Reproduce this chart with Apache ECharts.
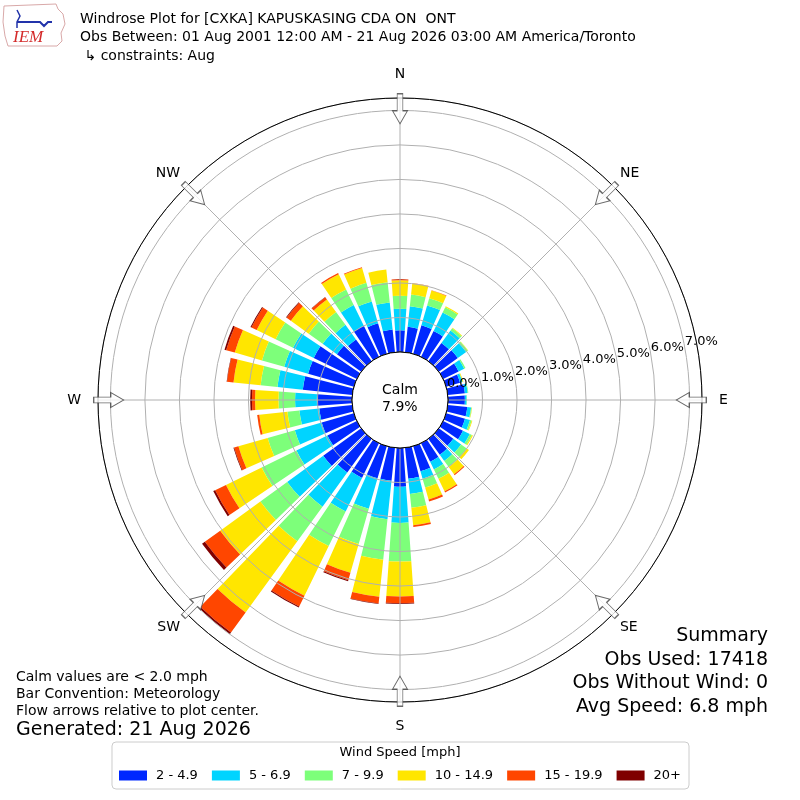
<!DOCTYPE html>
<html>
<head>
<meta charset="utf-8">
<script src="https://cdn.jsdelivr.net/npm/echarts@6/dist/echarts.min.js"></script>
<style>
html, body { margin: 0; padding: 0; background: #fff; }
#main { width: 800px; height: 800px; }
</style>
</head>
<body>
<div id="main"></div>
<script>
// wind direction bins (degrees, meteorological, every 10)
var directions = ['0','10','20','30','40','50','60','70','80','90','100','110',
                  '120','130','140','150','160','170','180','190','200','210','220','230',
                  '240','250','260','270','280','290','300','310','320','330','340','350'];

var speedBins = ['2 - 4.9', '5 - 6.9', '7 - 9.9', '10 - 14.9', '15 - 19.9', '20+'];

// frequency (%) per direction for each speed bin
var speed2to5 = [0.63,0.74,0.86,0.83,0.65,0.68,0.50,0.42,0.50,0.49,0.57,0.57,
                 0.64,0.52,0.57,0.60,0.76,0.90,1.12,0.96,0.97,1.12,1.21,1.36,
                 0.95,0.97,0.96,1.02,1.44,1.38,1.39,0.87,0.78,1.00,0.92,0.66];
var speed5to7 = [0.62,0.60,0.60,0.60,0.45,0.30,0.18,0.07,0.08,0.05,0.11,0.15,
                 0.22,0.28,0.22,0.25,0.22,0.45,1.05,1.12,0.92,1.08,1.22,1.29,
                 1.00,0.81,0.58,0.63,0.74,0.72,0.67,0.51,0.52,0.67,0.66,0.79];
var speed7to10 = [0.38,0.34,0.22,0.17,0.08,0.06,0.04,0.01,0.02,0.01,0.02,0.05,
                  0.07,0.20,0.22,0.30,0.27,0.40,1.12,1.18,1.06,1.12,1.24,0.96,
                  1.12,0.82,0.35,0.48,0.49,0.67,0.56,0.50,0.46,0.50,0.56,0.59];
var speed10to15 = [0.45,0.33,0.23,0.03,0.02,0.01,0.00,0.02,0.00,0.00,0.01,0.02,
                   0.03,0.08,0.26,0.40,0.36,0.51,1.01,1.08,0.87,1.60,2.55,1.44,
                   1.15,0.88,0.82,0.68,0.79,0.82,0.61,0.64,0.45,0.49,0.45,0.37];
var speed15to20 = [0.03,0.01,0.01,0.00,0.00,0.00,0.00,0.00,0.00,0.00,0.00,0.00,
                   0.00,0.00,0.03,0.04,0.06,0.05,0.20,0.20,0.22,0.35,0.72,0.55,
                   0.35,0.13,0.06,0.09,0.19,0.26,0.17,0.15,0.08,0.04,0.02,0.00];
var speed20up = [0.00,0.00,0.00,0.00,0.00,0.00,0.00,0.00,0.00,0.00,0.00,0.00,
                 0.00,0.00,0.00,0.00,0.00,0.00,0.02,0.01,0.03,0.03,0.06,0.10,
                 0.06,0.02,0.00,0.05,0.01,0.05,0.03,0.02,0.01,0.00,0.00,0.00];

var calmPercent = 7.9;

// compass labels for the outer ring
var compassNames = ['N', 'NE', 'E', 'SE', 'S', 'SW', 'W', 'NW'];
var compassAngles = [0, 45, 90, 135, 180, 225, 270, 315];

var summaryLines = ['Summary', 'Obs Used: 17418', 'Obs Without Wind: 0', 'Avg Speed: 6.8 mph'];

var binColors = ['#0028ff', '#00d4ff', '#7dff7a', '#ffe600', '#ff4600', '#7f0000'];
var binData = [speed2to5, speed5to7, speed7to10, speed10to15, speed15to20, speed20up];

var FONT = 'DejaVu Sans';
var R_IN = 48, R_OUT = 302, R_MAX = 7.36;

var chart = echarts.init(document.getElementById('main'));

// hollow arrow pointing up, rotated to point at the centre
var arrowPath = 'path://M8,0 L16,13 L11,13 L11,30 L5,30 L5,13 L0,13 Z';

var barSeries = binData.map(function (d, i) {
    return {
        type: 'bar',
        name: speedBins[i],
        coordinateSystem: 'polar',
        polarIndex: 0,
        stack: 'wind',
        data: d,
        barCategoryGap: '20%',
        itemStyle: { color: binColors[i] },
        silent: true,
        z: 2
    };
});

// summary block, right aligned
var summaryText = summaryLines.map(function (s, i) {
    return {
        type: 'text', right: 32, top: 627 + i * 23.5,
        style: { text: s, font: '19px "DejaVu Sans"', fill: '#000' }
    };
});

var option = {
    animation: false,
    textStyle: { fontFamily: FONT },
    title: [{
        text: 'Windrose Plot for [CXKA] KAPUSKASING CDA ON  ONT\n' +
              'Obs Between: 01 Aug 2001 12:00 AM - 21 Aug 2026 03:00 AM America/Toronto\n' +
              ' \u21b3 constraints: Aug',
        left: 80,
        top: 10,
        padding: 0,
        textStyle: { fontFamily: FONT, fontSize: 14, fontWeight: 'normal', color: '#000', lineHeight: 18.5 }
    }],
    polar: [
        { center: ['50%', '50%'], radius: [R_IN, R_OUT] },
        { center: ['50%', '50%'], radius: [R_IN, R_OUT] },
        { center: ['50%', '50%'], radius: [R_IN, R_OUT] }
    ],
    angleAxis: [
        {
            polarIndex: 0, type: 'category', data: directions,
            startAngle: 95, clockwise: true,
            axisLine: { show: false }, axisTick: { show: false },
            axisLabel: { show: false }, splitLine: { show: false }
        },
        {
            polarIndex: 1, type: 'value', min: 0, max: 360, interval: 45,
            startAngle: 90, clockwise: true, z: 6,
            axisLine: { lineStyle: { color: '#000', width: 1 } },
            axisTick: { show: false },
            axisLabel: {
                margin: 9, fontSize: 14, color: '#000', fontFamily: FONT,
                formatter: function (v) {
                    var i = Math.round(v / 45) % 8;
                    return (i % 2 === 0 ? '{c|' : '{d|') + compassNames[i] + '}';
                },
                rich: {
                    c: { fontSize: 14, fontFamily: FONT, color: '#000', padding: 8 },
                    d: { fontSize: 14, fontFamily: FONT, color: '#000' }
                }
            },
            splitLine: { lineStyle: { color: '#b0b0b0', width: 1 } }
        },
        { polarIndex: 2, type: 'value', min: 0, max: 360, startAngle: 10, show: false }
    ],
    radiusAxis: [
        { polarIndex: 0, min: 0, max: R_MAX, show: false },
        {
            polarIndex: 1, min: 0, max: R_MAX, interval: 1, z: 5,
            axisLine: { show: false }, axisTick: { show: false },
            axisLabel: { show: false },
            splitLine: { lineStyle: { color: '#b0b0b0', width: 1 } }
        },
        {
            polarIndex: 2, min: 0, max: R_MAX, interval: 1, z: 7,
            axisLine: { show: false }, axisTick: { show: false },
            splitLine: { show: false },
            axisLabel: {
                fontSize: 13, color: '#000', fontFamily: FONT,
                align: 'left', verticalAlign: 'bottom', margin: 2,
                formatter: function (v) {
                    if (Math.abs(v - Math.round(v)) > 1e-6) return '';
                    return v.toFixed(1) + '%';
                }
            }
        }
    ],
    legend: {
        data: speedBins,
        left: 'center',
        top: 742,
        icon: 'rect',
        itemWidth: 28,
        itemHeight: 10,
        itemGap: 14,
        padding: [27, 8, 7, 7],
        borderColor: '#cccccc',
        borderWidth: 1,
        borderRadius: 4,
        selectedMode: false,
        textStyle: { fontFamily: FONT, fontSize: 13, color: '#000', padding: [0, 0, 0, 4] }
    },
    graphic: [
        // calm circle in the middle
        {
            type: 'circle', z: 100,
            shape: { cx: 400, cy: 400, r: R_IN },
            style: { fill: '#fff', stroke: '#000', lineWidth: 1 }
        },
        {
            type: 'text', z: 101, left: 'center', top: 382,
            style: {
                text: 'Calm\n' + calmPercent.toFixed(1) + '%',
                font: '14px "DejaVu Sans"', fill: '#000', align: 'center', lineHeight: 17
            }
        },
        // legend title
        {
            type: 'text', z: 101, left: 'center', top: 746,
            style: { text: 'Wind Speed [mph]', font: '13px "DejaVu Sans"', fill: '#000' }
        },
        // notes, bottom left
        {
            type: 'text', left: 16, top: 669,
            style: {
                text: 'Calm values are < 2.0 mph\nBar Convention: Meteorology\nFlow arrows relative to plot center.',
                font: '14px "DejaVu Sans"', fill: '#000', lineHeight: 17
            }
        },
        {
            type: 'text', left: 16, top: 721,
            style: { text: 'Generated: 21 Aug 2026', font: '19px "DejaVu Sans"', fill: '#000' }
        },
        // IEM logo
        {
            type: 'polygon', z: 1,
            shape: { points: [[4, 6], [56, 4], [58, 9], [63, 14], [65, 24], [61, 33], [62, 41], [57, 46], [8, 46], [5, 36], [3, 22]] },
            style: { fill: '#fff', stroke: '#d8a8a8', lineWidth: 1 }
        },
        {
            type: 'polyline', z: 2,
            shape: { points: [[17, 22], [40, 22], [44, 26], [48, 22], [52, 22]] },
            style: { stroke: '#2233aa', lineWidth: 2, fill: null }
        },
        {
            type: 'polyline', z: 2,
            shape: { points: [[17, 10], [20, 16], [17, 22], [17, 28]] },
            style: { stroke: '#2233aa', lineWidth: 1.5, fill: null }
        },
        {
            type: 'text', z: 2, left: 13, top: 29,
            style: { text: 'IEM', font: 'italic 17px "Liberation Serif"', fill: '#d42a2a' }
        }
    ].concat(summaryText),
    series: barSeries.concat([{
        type: 'scatter',
        coordinateSystem: 'polar',
        polarIndex: 1,
        data: compassAngles.map(function (a) { return [7.05, a]; }),
        symbol: arrowPath,
        symbolSize: [15, 30],
        symbolRotate: function (v) { return -(v[1] + 180); },
        itemStyle: { color: '#fff', borderColor: '#444', borderWidth: 1 },
        silent: true,
        z: 20
    }])
};

chart.setOption(option);
</script>
</body>
</html>
